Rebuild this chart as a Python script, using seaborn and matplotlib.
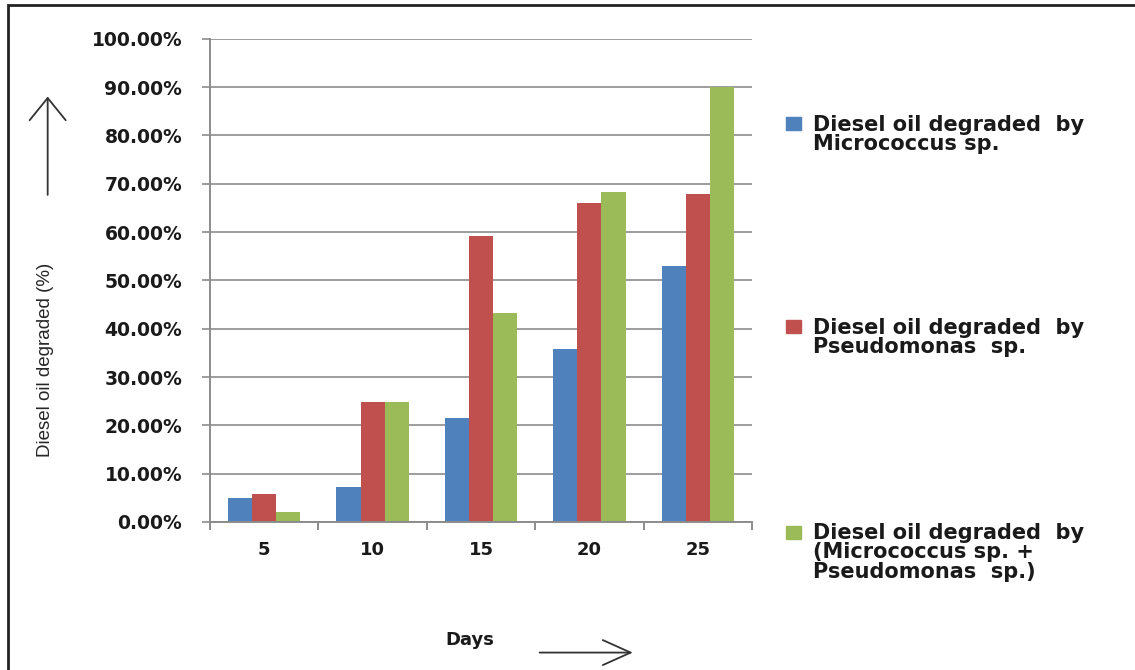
import numpy   as np
import pandas  as pd
import seaborn as sns
from matplotlib import pyplot as plt
from matplotlib.patches import Rectangle, FancyArrowPatch
from matplotlib.ticker import FuncFormatter, FixedLocator

days        = ['5', '10', '15', '20', '25']
micrococcus = [5.0, 7.2, 21.6, 35.8, 53.0]
pseudomonas = [5.7, 24.8, 59.1, 66.0, 67.8]
mixed       = [2.1, 24.8, 43.2, 68.2, 90.0]
series      = ['Diesel oil degraded  by\nMicrococcus sp.',
               'Diesel oil degraded  by\nPseudomonas  sp.',
               'Diesel oil degraded  by\n(Micrococcus sp. +\nPseudomonas  sp.)']
colors      = ['#4F81BD', '#C0504D', '#9BBB59']

data = pd.DataFrame({ 'Days'  : days*3,
                      'Value' : micrococcus + pseudomonas + mixed,
                      'Series': [s for s in series for _ in days] })

sns.set_theme(style='white')
plt.rcParams['font.family'] = ['DejaVu Sans']

fig = plt.figure(figsize=(11.35, 6.7), dpi=100)
ax  = fig.add_axes([0.185, 0.221, 0.4776, 0.721])

sns.barplot(data=data, x='Days', y='Value', hue='Series', palette=colors,
            width=0.667, saturation=1, linewidth=0, ax=ax, legend=False)

ax.set_ylim(0, 100)
ax.set_xlim(-0.5, len(days)-0.5)
ax.set_yticks(np.arange(0, 101, 10))
ax.yaxis.set_major_formatter(FuncFormatter(lambda v, p: '%.2f%%' % v))
ax.yaxis.grid(True, color='#8c8c8c', linewidth=1.2)
ax.set_axisbelow(True)
for s in ['top', 'right']:
    ax.spines[s].set_visible(False)
for s in ['left', 'bottom']:
    ax.spines[s].set_color('#8c8c8c')
    ax.spines[s].set_linewidth(1.4)

ax.tick_params(axis='y', which='major', length=6, color='#8c8c8c', width=1.2,
               labelsize=13.5, pad=14, left=True)
ax.tick_params(axis='x', which='major', length=0, labelsize=13, pad=14)
ax.xaxis.set_minor_locator(FixedLocator(np.arange(-0.5, len(days), 1)))
ax.tick_params(axis='x', which='minor', length=6, color='#8c8c8c', width=1.4,
               bottom=True)
for t in ax.get_xticklabels() + ax.get_yticklabels():
    t.set_fontweight('bold')
    t.set_color('#1a1a1a')
ax.set_xlabel('')
ax.set_ylabel('')

# axis titles and arrows
fig.text(0.040, 0.463, 'Diesel oil degraded (%)', rotation=90, ha='center',
         va='center', fontsize=13.5, family='Liberation Sans')
fig.text(0.414, 0.045, 'Days', ha='center', va='center', fontsize=13,
         fontweight='bold', color='#1a1a1a')
fig.patches.append(FancyArrowPatch((0.042, 0.705), (0.042, 0.860),
                   transform=fig.transFigure,
                   arrowstyle='->,head_length=16,head_width=13',
                   color='#333333', linewidth=1.3))
fig.patches.append(FancyArrowPatch((0.473, 0.026), (0.560, 0.026),
                   transform=fig.transFigure,
                   arrowstyle='->,head_length=20,head_width=9',
                   color='#333333', linewidth=1.3))

# legend
leg_y = [0.810, 0.507, 0.200]
for c, lab, y in zip(colors, series, leg_y):
    fig.patches.append(Rectangle((0.6925, y - 0.004), 0.0135, 0.019,
                                 transform=fig.transFigure, color=c))
    fig.text(0.716, y + 0.019, lab, ha='left', va='top', fontsize=15,
             fontweight='bold', color='#1a1a1a', linespacing=0.95)

# outer frame
fig.patches.append(Rectangle((0.007, -0.2), 1.2, 1.193, transform=fig.transFigure,
                             fill=False, edgecolor='#222222', linewidth=2))

fig.savefig('out.png', dpi=100)
